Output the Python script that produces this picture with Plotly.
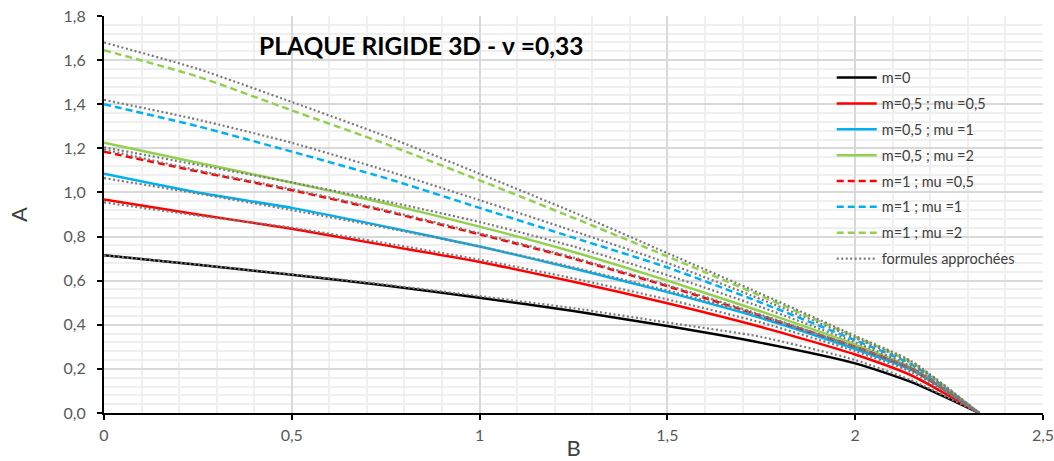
import plotly.graph_objects as go

# Abscissa B shared by every curve
B = [0, 0.25, 0.5, 0.75, 1.0, 1.25, 1.5, 1.75, 2.0, 2.15, 2.33]

# Exact curves A(B)
A_m0 = [0.715, 0.672, 0.627, 0.578, 0.523, 0.462, 0.394, 0.318, 0.225, 0.140, 0.0]
A_m05_mu05 = [0.968, 0.900, 0.835, 0.760, 0.685, 0.595, 0.498, 0.390, 0.265, 0.170, 0.0]
A_m05_mu1 = [1.085, 1.000, 0.930, 0.845, 0.755, 0.655, 0.548, 0.430, 0.290, 0.195, 0.0]
A_m05_mu2 = [1.225, 1.135, 1.045, 0.950, 0.845, 0.730, 0.600, 0.460, 0.310, 0.205, 0.0]
A_m1_mu05 = [1.185, 1.095, 1.010, 0.915, 0.810, 0.700, 0.575, 0.440, 0.300, 0.200, 0.0]
A_m1_mu1 = [1.400, 1.300, 1.185, 1.065, 0.930, 0.795, 0.660, 0.500, 0.330, 0.220, 0.0]
A_m1_mu2 = [1.645, 1.525, 1.372, 1.220, 1.055, 0.885, 0.710, 0.530, 0.345, 0.230, 0.0]

# Approximate formulas, one per exact curve
F_m0 = [0.715, 0.673, 0.629, 0.582, 0.530, 0.475, 0.410, 0.345, 0.240, 0.148, 0.0]
F_m05_mu05 = [0.955, 0.895, 0.840, 0.770, 0.695, 0.610, 0.515, 0.410, 0.280, 0.185, 0.0]
F_m05_mu1 = [1.065, 0.995, 0.920, 0.840, 0.755, 0.660, 0.555, 0.440, 0.300, 0.200, 0.0]
F_m05_mu2 = [1.205, 1.125, 1.045, 0.960, 0.866, 0.755, 0.625, 0.480, 0.320, 0.210, 0.0]
F_m1_mu05 = [1.195, 1.100, 1.015, 0.920, 0.815, 0.705, 0.580, 0.445, 0.300, 0.200, 0.0]
F_m1_mu1 = [1.420, 1.330, 1.225, 1.100, 0.965, 0.825, 0.680, 0.515, 0.340, 0.225, 0.0]
F_m1_mu2 = [1.680, 1.560, 1.410, 1.255, 1.085, 0.910, 0.725, 0.540, 0.350, 0.235, 0.0]

labels = ["m=0", "m=0,5 ; mu =0,5", "m=0,5 ; mu =1", "m=0,5 ; mu =2",
          "m=1 ; mu =0,5", "m=1 ; mu =1", "m=1 ; mu =2"]
exact = [A_m0, A_m05_mu05, A_m05_mu1, A_m05_mu2, A_m1_mu05, A_m1_mu1, A_m1_mu2]
approx = [F_m0, F_m05_mu05, F_m05_mu1, F_m05_mu2, F_m1_mu05, F_m1_mu1, F_m1_mu2]
colors = ["#000000", "#FF0000", "#00B0F0", "#92D050", "#FF0000", "#00B0F0", "#92D050"]
dashes = ["solid", "solid", "solid", "solid", "7px,4px", "7px,4px", "7px,4px"]
approx_label = "formules approchées"

FONT = "Lato, 'Liberation Sans', sans-serif"

fig = go.Figure()
for i, (name, ys, col, dsh) in enumerate(zip(labels, exact, colors, dashes)):
    fig.add_trace(go.Scatter(
        x=B, y=ys, mode="lines", name=name, legendgroup=f"g{i}",
        line=dict(color=col, width=2.5, dash=dsh, shape="spline", smoothing=0.6),
    ))
for i, ys in enumerate(approx):
    fig.add_trace(go.Scatter(
        x=B, y=ys, mode="lines", name=approx_label, legendgroup="approx",
        showlegend=(i == 0),
        line=dict(color="#7a7a7a", width=2.2, dash="2px,2.5px", shape="spline", smoothing=0.6),
    ))

fig.update_layout(
    width=1054, height=461,
    margin=dict(l=104, r=11, t=16, b=48, autoexpand=False),
    paper_bgcolor="white", plot_bgcolor="white",
    separators=", ",
    font=dict(family=FONT, size=16, color="#595959"),
    showlegend=True,
    legend=dict(
        x=0.775, y=0.885, xanchor="left", yanchor="top",
        bgcolor="rgba(0,0,0,0)", borderwidth=0,
        font=dict(family=FONT, size=14.5, color="#404040"),
        tracegroupgap=4, itemwidth=40,
    ),
    annotations=[dict(
        text="<b>PLAQUE RIGIDE 3D - ν =0,33</b>",
        xref="paper", yref="paper", x=0.163, y=0.925, xanchor="left", yanchor="middle",
        showarrow=False, font=dict(family=FONT, size=24.5, color="#000000"),
    )],
)

fig.update_xaxes(
    range=[0, 2.5], dtick=0.5, tick0=0, automargin=False,
    showline=True, linecolor="#000000", linewidth=2,
    ticks="outside", ticklen=5, tickcolor="#000000", tickwidth=1.5,
    ticklabelstandoff=2, ticklabeloverflow="allow",
    showgrid=True, gridcolor="#d9d9d9", gridwidth=1.5,
    minor=dict(dtick=0.1, showgrid=True, gridcolor="#efefef", gridwidth=1.5),
    zeroline=False,
    title=dict(text="B", font=dict(family=FONT, size=22, color="#404040"), standoff=4),
)
fig.update_yaxes(
    range=[0, 1.8], dtick=0.2, tick0=0, tickformat=".1f", automargin=False,
    showline=True, linecolor="#000000", linewidth=2,
    ticks="outside", ticklen=5, tickcolor="#000000", tickwidth=1.5,
    ticklabelstandoff=8, ticklabeloverflow="allow",
    showgrid=True, gridcolor="#d9d9d9", gridwidth=1.5,
    minor=dict(dtick=0.04, showgrid=True, gridcolor="#efefef", gridwidth=1.5),
    zeroline=False,
    title=dict(text="A", font=dict(family=FONT, size=22, color="#404040"), standoff=30),
)

fig.write_html("out.html")
